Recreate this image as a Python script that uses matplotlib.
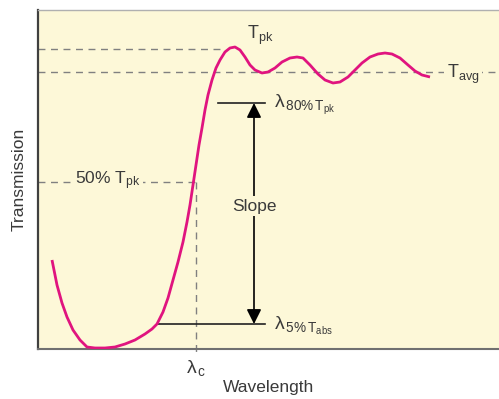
import matplotlib.pyplot as plt

plt.rcParams['font.family'] = ['Liberation Sans', 'DejaVu Sans']
plt.rcParams['mathtext.fontset'] = 'custom'
plt.rcParams['mathtext.rm'] = 'Liberation Sans'
plt.rcParams['mathtext.it'] = 'Liberation Sans'

# transmission curve (arbitrary units)
wavelength = [14, 19, 24, 29, 35, 42, 49, 57, 67, 77, 87, 97, 107, 114, 119,
              125, 130, 135, 140, 145, 149, 152, 155, 158, 161, 164, 167, 170,
              174, 178, 182, 187, 192, 197, 202, 207, 212, 217, 224, 230, 237,
              244, 252, 259, 265, 272, 280, 287, 295, 302, 310, 317, 324, 332,
              340, 347, 354, 362, 370, 377, 384, 392]
transmission = [89, 64, 46, 32, 19, 9, 2, 1, 1, 2, 5, 9, 15, 20, 25, 37, 51,
                69, 87, 107, 127, 144, 164, 184, 204, 221, 239, 254, 269, 281,
                289, 297, 301, 302, 299, 292, 284, 279, 276, 277, 281, 287, 291,
                292, 291, 284, 275, 269, 266, 267, 272, 279, 286, 292, 295, 296,
                295, 291, 284, 278, 274, 272]

t_pk = 300
t_avg = 277
t_half = 167
t_80 = 246
t_5 = 25
x_c = 158
x_80_start = 180
x_5_start = 119
x_arrow = 216
x_mark_end = 227

bg = '#fdf8d8'
ink = '#3a3a3a'
dash_col = '#808080'

fig = plt.figure(figsize=(4.99, 3.99), dpi=100)
ax = fig.add_axes([38 / 499, 50 / 399, 461 / 499, 339 / 399])
ax.set_facecolor(bg)
ax.set_xlim(0, 461)
ax.set_ylim(0, 339)
ax.set_xticks([])
ax.set_yticks([])
ax.spines['right'].set_visible(False)
ax.spines['left'].set_color('#404040')
ax.spines['left'].set_linewidth(1.6)
ax.spines['bottom'].set_color('#707070')
ax.spines['bottom'].set_linewidth(1.5)
ax.spines['top'].set_color('#b0b0b0')
ax.spines['top'].set_linewidth(1)

dash = dict(color=dash_col, lw=1, dashes=(5, 4), zorder=1)
ax.plot([0, 184], [t_pk, t_pk], **dash)
ax.plot([0, 461], [t_avg, t_avg], **dash)
ax.plot([0, x_c], [t_half, t_half], **dash)
ax.plot([x_c, x_c], [t_half, -3], clip_on=False, **dash)

ax.plot(wavelength, transmission, color='#e0147f', lw=2, zorder=3,
        solid_capstyle='butt')

# slope markers
ax.plot([x_80_start, x_mark_end], [t_80, t_80], color='#222222', lw=1.2, zorder=2)
ax.plot([x_5_start, x_mark_end], [t_5, t_5], color='#222222', lw=1.2, zorder=2)
ax.annotate('', xy=(x_arrow, t_80), xytext=(x_arrow, t_5),
            arrowprops=dict(arrowstyle='<|-|>', color='black', lw=1.2,
                            mutation_scale=22, shrinkA=0, shrinkB=0), zorder=2)

box = dict(facecolor=bg, edgecolor='none', pad=2)
ax.text(x_arrow, 143, 'Slope', ha='center', va='center', fontsize=12.5,
        color=ink, bbox=box, zorder=4)
ax.text(70, t_half + 1, r'50% T$_{\mathrm{pk}}$', ha='center', va='center',
        fontsize=12.5, color=ink, bbox=box, zorder=4)
ax.text(209, 302, r'T$_{\mathrm{pk}}$', ha='left', va='bottom', fontsize=13,
        color=ink)
ax.text(409, t_avg - 2, r'T$_{\mathrm{avg}}$', ha='left', va='center',
        fontsize=13, color=ink, bbox=box, zorder=4)
ax.text(236, t_80 - 2, r'$\lambda_{\,\mathrm{80\%\,T_{pk}}}$', ha='left',
        va='center', fontsize=14, color=ink)
ax.text(236, t_5 - 2, r'$\lambda_{\,\mathrm{5\%\,T_{abs}}}$', ha='left',
        va='center', fontsize=14, color=ink)
ax.text(x_c, -9, r'$\lambda_{\,\mathrm{c}}$', ha='center', va='top',
        fontsize=14, color=ink, clip_on=False)

ax.set_xlabel('Wavelength', fontsize=12.5, color=ink, labelpad=22)
ax.set_ylabel('Transmission', fontsize=12.5, color=ink, labelpad=8)

fig.savefig('out.png', dpi=100)
